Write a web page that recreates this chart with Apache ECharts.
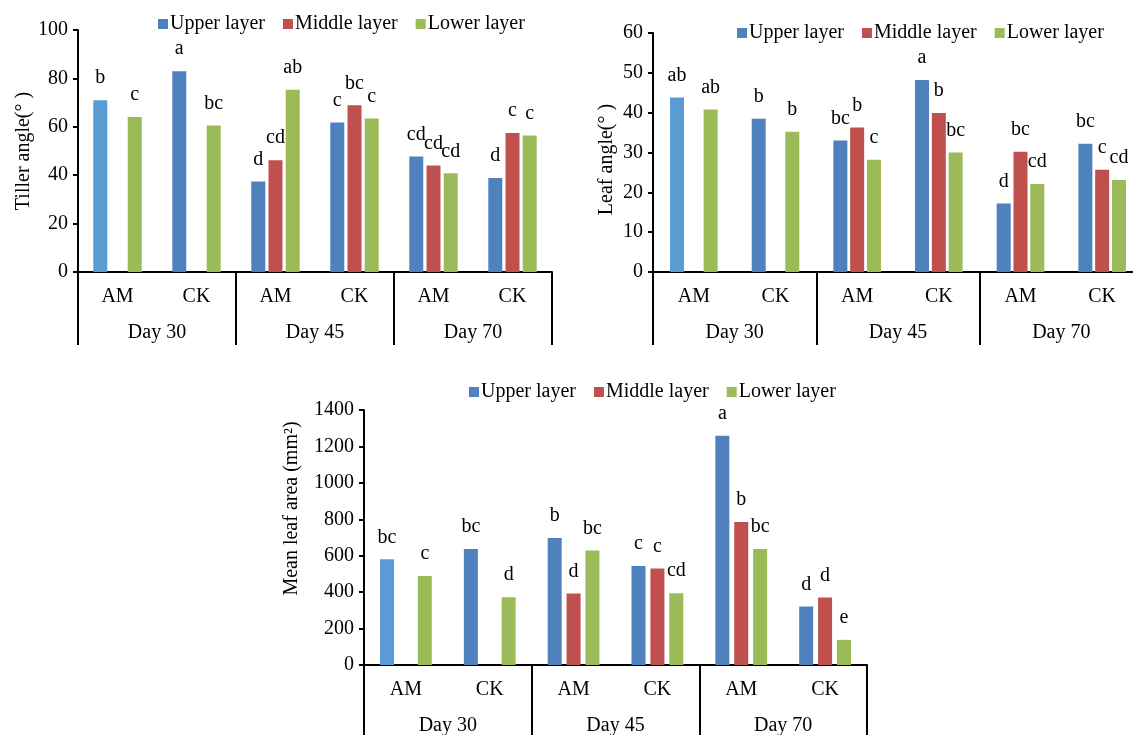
<!DOCTYPE html>
<html><head><meta charset="utf-8">
<script src="https://cdn.jsdelivr.net/npm/echarts@6/dist/echarts.min.js"></script>
<style>html,body{margin:0;padding:0;background:#fff}#c{width:1133px;height:735px}</style>
</head><body><div id="c"></div>
<script>
// ---- data ----
const groups = ['Day 30', 'Day 45', 'Day 70'];
const treatments = ['AM', 'CK', 'AM', 'CK', 'AM', 'CK'];
const layers = ['Upper layer', 'Middle layer', 'Lower layer'];

const tillerUpper  = [71.0, 83.0, 37.4, 61.8, 47.7, 38.8];
const tillerMiddle = [null, null, 46.2, 68.9, 44.0, 57.4];
const tillerLower  = [64.0, 60.5, 75.3, 63.4, 40.8, 56.4];
const tillerUpperSig  = ['b', 'a', 'd', 'c', 'cd', 'd'];
const tillerMiddleSig = ['', '', 'cd', 'bc', 'cd', 'c'];
const tillerLowerSig  = ['c', 'bc', 'ab', 'c', 'cd', 'c'];

const leafUpper  = [43.8, 38.5, 33.0, 48.2, 17.2, 32.2];
const leafMiddle = [null, null, 36.3, 39.9, 30.2, 25.7];
const leafLower  = [40.8, 35.2, 28.2, 30.0, 22.1, 23.1];
const leafUpperSig  = ['ab', 'b', 'bc', 'a', 'd', 'bc'];
const leafMiddleSig = ['', '', 'b', 'b', 'bc', 'c'];
const leafLowerSig  = ['ab', 'b', 'c', 'bc', 'cd', 'cd'];

const areaUpper  = [580, 637, 697, 543, 1259, 321];
const areaMiddle = [null, null, 393, 530, 785, 371];
const areaLower  = [488, 372, 629, 394, 637, 138];
const areaUpperSig  = ['bc', 'bc', 'b', 'c', 'a', 'd'];
const areaMiddleSig = ['', '', 'd', 'c', 'b', 'd'];
const areaLowerSig  = ['c', 'd', 'bc', 'cd', 'bc', 'e'];

const tillerAxis = { name: 'Tiller angle(° )', min: 0, max: 100, interval: 20 };
const leafAxis   = { name: 'Leaf angle(° )',   min: 0, max: 60,  interval: 10 };
const areaAxis   = { name: 'Mean leaf area (mm²)', min: 0, max: 1400, interval: 200 };

// ---- styling ----
const FONT = '"Times New Roman", "Liberation Serif", serif';
const colors = ['#4F81BD', '#C0504D', '#9BBB59'];
const firstBarColor = '#5B9BD5';

const panels = [
  { axis: tillerAxis, vals: [tillerUpper, tillerMiddle, tillerLower], sig: [tillerUpperSig, tillerMiddleSig, tillerLowerSig],
    grid: { left: 78, top: 30, width: 474, height: 242 }, legend: { left: 153, top: 9 }, nameGap: 42, namePad: [0,0,0,0], barGap: '23%' },
  { axis: leafAxis, vals: [leafUpper, leafMiddle, leafLower], sig: [leafUpperSig, leafMiddleSig, leafLowerSig],
    grid: { left: 653, top: 33, width: 490, height: 239 }, legend: { left: 732, top: 18 }, nameGap: 36, namePad: [0,14,0,0], barGap: '20%' },
  { axis: areaAxis, vals: [areaUpper, areaMiddle, areaLower], sig: [areaUpperSig, areaMiddleSig, areaLowerSig],
    grid: { left: 364, top: 410, width: 503, height: 255 }, legend: { left: 464, top: 377 }, nameGap: 62, namePad: [0,0,0,58], barGap: '35%' }
];

const option = { animation: false, backgroundColor: '#fff', textStyle: { fontFamily: FONT },
  grid: [], xAxis: [], yAxis: [], series: [], legend: [] };

panels.forEach((p, i) => {
  option.grid.push(Object.assign({ outerBoundsMode: 'none' }, p.grid));
  option.legend.push({
    data: layers, left: p.legend.left, top: p.legend.top, itemWidth: 10, itemHeight: 10, itemGap: 18,
    icon: 'rect', textStyle: { fontFamily: FONT, fontSize: 20, color: '#000', padding: [0, 0, 0, -3] }
  });
  option.xAxis.push({
    type: 'category', gridIndex: i, data: treatments, position: 'bottom',
    axisLine: { lineStyle: { color: '#000', width: 2 } },
    axisTick: { length: 36, lineStyle: { color: '#000', width: 2 } },
    axisLabel: { margin: 15, fontSize: 20, color: '#000', fontFamily: FONT },
    splitLine: { show: false }
  });
  option.xAxis.push({
    type: 'category', gridIndex: i, data: groups, position: 'bottom',
    axisLine: { show: false },
    axisTick: { show: true, length: 73, lineStyle: { color: '#000', width: 2 } },
    axisLabel: { margin: 51, fontSize: 20, color: '#000', fontFamily: FONT },
    splitLine: { show: false }
  });
  option.yAxis.push({
    type: 'value', gridIndex: i, min: p.axis.min, max: p.axis.max, interval: p.axis.interval,
    name: p.axis.name, nameLocation: 'middle', nameGap: p.nameGap,
    nameTextStyle: { fontSize: 20, color: '#000', fontFamily: FONT, padding: p.namePad },
    axisLine: { show: true, lineStyle: { color: '#000', width: 2 } },
    axisTick: { show: true, length: 5, lineStyle: { color: '#000', width: 2 } },
    axisLabel: { margin: 10, fontSize: 20, color: '#000', fontFamily: FONT, formatter: (v) => String(v) },
    splitLine: { show: false }
  });
  layers.forEach((name, k) => {
    const sig = p.sig[k];
    option.series.push({
      type: 'bar', name: name, xAxisIndex: 2 * i, yAxisIndex: i,
      barWidth: 14, barGap: p.barGap,
      itemStyle: { color: colors[k] },
      data: p.vals[k].map((v, j) => (k === 0 && j === 0) ? { value: v, itemStyle: { color: firstBarColor } } : v),
      label: { show: true, position: 'top', distance: 12, fontSize: 20, color: '#000', fontFamily: FONT,
        formatter: (d) => sig[d.dataIndex] }
    });
  });
});

const chart = echarts.init(document.getElementById('c'), null, { renderer: 'canvas' });
chart.setOption(option);
</script></body></html>
